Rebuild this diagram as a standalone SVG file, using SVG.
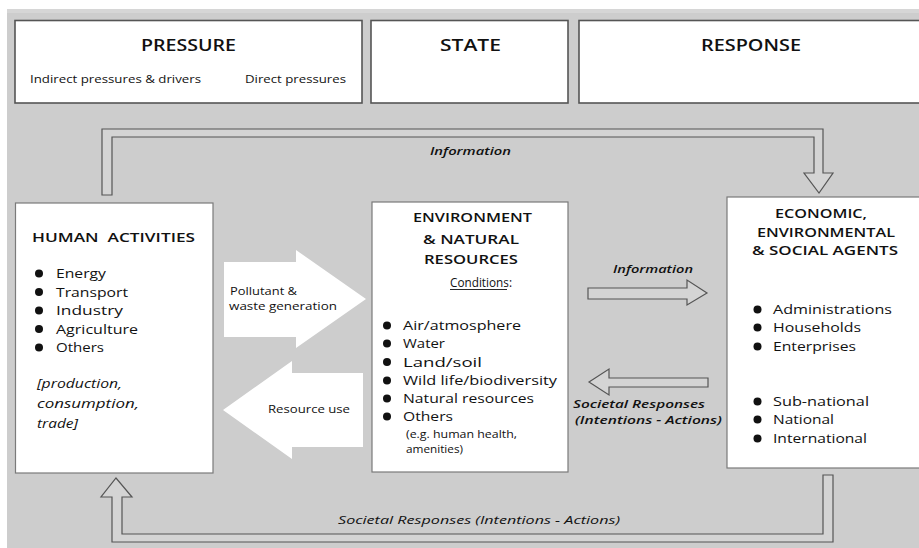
<svg xmlns="http://www.w3.org/2000/svg" width="919" height="548" viewBox="0 0 919 548">
<style>
text{font-family:"Open Sans","DejaVu Sans","Liberation Sans",sans-serif;fill:#111}
.hdr{font-size:17px;font-weight:600}
.sub{font-size:10.5px}
.box{fill:#fff;stroke:#555;stroke-width:1.6}
.node{fill:#fff;stroke:#7a7a7a;stroke-width:1.2}
.ttl{font-size:13px;font-weight:600}
.li{font-size:12.5px}
.sm{font-size:10.5px}
.it{font-style:italic}
.bi{font-style:italic;font-weight:600;font-size:11px}
.conn{fill:#d4d4d4;stroke:#555;stroke-width:1.2;stroke-linejoin:miter}
.white{fill:#fff}
.lbl{font-size:11px}
.dot{fill:#111}
</style>
<rect x="0" y="0" width="919" height="548" fill="#fff"/>
<rect x="7" y="9" width="912" height="539" fill="#cdcdcd"/>
<rect x="7" y="9" width="912" height="4" fill="#d6d6d6"/>

<g id="pressure">
<rect class="box" x="15" y="20.5" width="347" height="82.5"/>
<text class="hdr" x="141" y="51" textLength="95" lengthAdjust="spacingAndGlyphs">PRESSURE</text>
<text class="sub" x="30" y="83" textLength="171" lengthAdjust="spacingAndGlyphs">Indirect pressures &amp; drivers</text>
<text class="sub" x="245" y="83" textLength="101" lengthAdjust="spacingAndGlyphs">Direct pressures</text>
</g>
<g id="state">
<rect class="box" x="371" y="20.5" width="197" height="82.5"/>
<text class="hdr" x="440" y="51" textLength="61" lengthAdjust="spacingAndGlyphs">STATE</text>
</g>
<g id="response">
<rect class="box" x="579" y="20.5" width="350" height="82.5"/>
<text class="hdr" x="701" y="51" textLength="100" lengthAdjust="spacingAndGlyphs">RESPONSE</text>
</g>

<g id="connectors">
<path class="conn" d="M102,195 L102,129 L823,129 L823,173 L833,173 L819,193 L804,173 L814,173 L814,137 L112,137 L112,195 Z"/>
<text class="bi" x="430" y="155" textLength="81" lengthAdjust="spacingAndGlyphs">Information</text>
<path class="conn" d="M112,542 L833,542 L833,475 L823,475 L823,534 L122,534 L122,497 L132,497 L116,478 L101,497 L112,497 Z"/>
<text class="it lbl" x="338" y="524" textLength="282" lengthAdjust="spacingAndGlyphs">Societal Responses (Intentions - Actions)</text>
<path class="white" d="M224,262 L296,262 L296,250 L366,299 L296,348 L296,337 L224,337 Z"/>
<text class="lbl" x="230" y="295" textLength="67" lengthAdjust="spacingAndGlyphs">Pollutant &amp;</text>
<text class="lbl" x="229" y="310" textLength="108" lengthAdjust="spacingAndGlyphs">waste generation</text>
<path class="white" d="M363,373 L292,373 L292,361 L223,410 L292,459 L292,447 L363,447 Z"/>
<text class="lbl" x="268" y="413" textLength="82" lengthAdjust="spacingAndGlyphs">Resource use</text>
<path class="conn" d="M588,288 L687,288 L687,280 L707,293 L687,305 L687,299 L588,299 Z"/>
<text class="bi" x="613" y="273" textLength="80" lengthAdjust="spacingAndGlyphs">Information</text>
<path class="conn" d="M708,378 L609,378 L609,369 L589,382 L609,395 L609,387 L708,387 Z"/>
<text class="bi" x="573" y="408" textLength="132" lengthAdjust="spacingAndGlyphs">Societal Responses</text>
<text class="bi" x="575" y="424" textLength="147" lengthAdjust="spacingAndGlyphs">(Intentions - Actions)</text>
</g>

<g id="human-activities">
<rect class="node" x="15.5" y="203" width="197.5" height="270"/>
<text class="ttl" x="32" y="242" textLength="163" lengthAdjust="spacingAndGlyphs" xml:space="preserve">HUMAN  ACTIVITIES</text>
<circle class="dot" cx="39" cy="273.5" r="4"/>
<circle class="dot" cx="39" cy="292" r="4"/>
<circle class="dot" cx="39" cy="310.5" r="4"/>
<circle class="dot" cx="39" cy="329" r="4"/>
<circle class="dot" cx="39" cy="347.5" r="4"/>
<text class="li" x="56" y="278" textLength="50" lengthAdjust="spacingAndGlyphs">Energy</text>
<text class="li" x="56" y="296.5" textLength="72" lengthAdjust="spacingAndGlyphs">Transport</text>
<text class="li" x="56" y="315" textLength="67" lengthAdjust="spacingAndGlyphs">Industry</text>
<text class="li" x="56" y="333.5" textLength="82" lengthAdjust="spacingAndGlyphs">Agriculture</text>
<text class="li" x="56" y="352" textLength="48" lengthAdjust="spacingAndGlyphs">Others</text>
<text class="li it" x="37" y="388" textLength="85" lengthAdjust="spacingAndGlyphs">[production,</text>
<text class="li it" x="37" y="408" textLength="102" lengthAdjust="spacingAndGlyphs">consumption,</text>
<text class="li it" x="37" y="428" textLength="41" lengthAdjust="spacingAndGlyphs">trade]</text>
</g>

<g id="environment">
<rect class="node" x="372" y="202" width="196" height="270"/>
<text class="ttl" x="413" y="222" textLength="119" lengthAdjust="spacingAndGlyphs">ENVIRONMENT</text>
<text class="ttl" x="423" y="244" textLength="96" lengthAdjust="spacingAndGlyphs">&amp; NATURAL</text>
<text class="ttl" x="424" y="264" textLength="94" lengthAdjust="spacingAndGlyphs">RESOURCES</text>
<text class="li" x="450" y="287" textLength="62" lengthAdjust="spacingAndGlyphs">Conditions:</text>
<line x1="450" y1="289.5" x2="507" y2="289.5" stroke="#111" stroke-width="0.9"/>
<circle class="dot" cx="387" cy="325.5" r="4"/>
<circle class="dot" cx="387" cy="343.5" r="4"/>
<circle class="dot" cx="387" cy="362" r="4"/>
<circle class="dot" cx="387" cy="380.5" r="4"/>
<circle class="dot" cx="387" cy="398.5" r="4"/>
<circle class="dot" cx="387" cy="416.5" r="4"/>
<text class="li" x="403" y="330" textLength="118" lengthAdjust="spacingAndGlyphs">Air/atmosphere</text>
<text class="li" x="403" y="348" textLength="42" lengthAdjust="spacingAndGlyphs">Water</text>
<text class="li" x="403" y="366.5" textLength="79" lengthAdjust="spacingAndGlyphs">Land/soil</text>
<text class="li" x="403" y="385" textLength="154" lengthAdjust="spacingAndGlyphs">Wild life/biodiversity</text>
<text class="li" x="403" y="403" textLength="131" lengthAdjust="spacingAndGlyphs">Natural resources</text>
<text class="li" x="403" y="421" textLength="50" lengthAdjust="spacingAndGlyphs">Others</text>
<text class="sm" x="406" y="438" textLength="111" lengthAdjust="spacingAndGlyphs">(e.g. human health,</text>
<text class="sm" x="406" y="453" textLength="57" lengthAdjust="spacingAndGlyphs">amenities)</text>
</g>

<g id="agents">
<rect class="node" x="727" y="197" width="200" height="271"/>
<text class="ttl" x="775" y="218" textLength="92" lengthAdjust="spacingAndGlyphs">ECONOMIC,</text>
<text class="ttl" x="757" y="237" textLength="138" lengthAdjust="spacingAndGlyphs">ENVIRONMENTAL</text>
<text class="ttl" x="752" y="255" textLength="146" lengthAdjust="spacingAndGlyphs">&amp; SOCIAL AGENTS</text>
<circle class="dot" cx="757.5" cy="309.5" r="4"/>
<circle class="dot" cx="757.5" cy="327.5" r="4"/>
<circle class="dot" cx="757.5" cy="346.5" r="4"/>
<circle class="dot" cx="757.5" cy="401.5" r="4"/>
<circle class="dot" cx="757.5" cy="419.5" r="4"/>
<circle class="dot" cx="757.5" cy="438.5" r="4"/>
<text class="li" x="773" y="314" textLength="119" lengthAdjust="spacingAndGlyphs">Administrations</text>
<text class="li" x="773" y="332" textLength="88" lengthAdjust="spacingAndGlyphs">Households</text>
<text class="li" x="773" y="351" textLength="83" lengthAdjust="spacingAndGlyphs">Enterprises</text>
<text class="li" x="773" y="406" textLength="96" lengthAdjust="spacingAndGlyphs">Sub-national</text>
<text class="li" x="773" y="424" textLength="61" lengthAdjust="spacingAndGlyphs">National</text>
<text class="li" x="773" y="443" textLength="94" lengthAdjust="spacingAndGlyphs">International</text>
</g>
</svg>
